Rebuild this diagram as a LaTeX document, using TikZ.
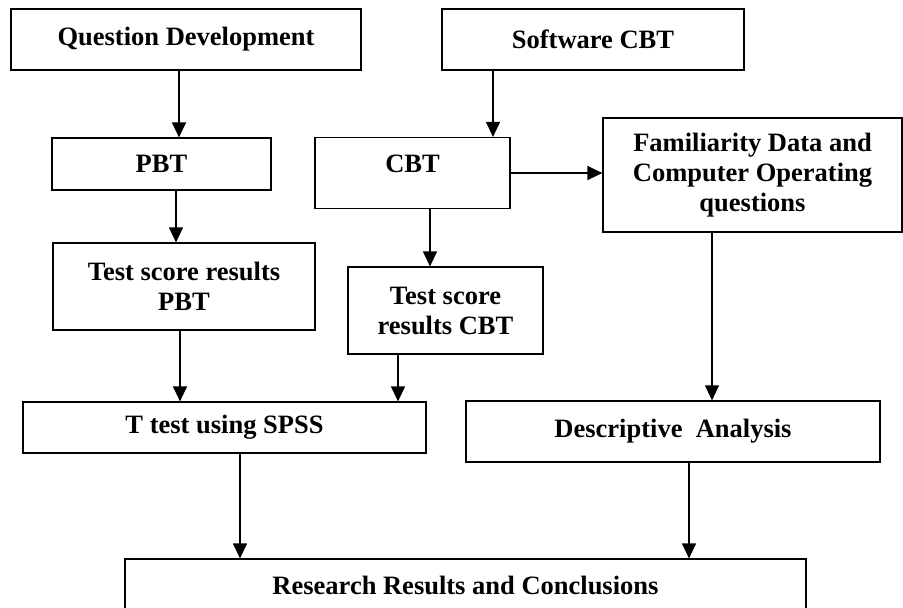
\documentclass[tikz,border=0pt]{standalone}
\usepackage{fontspec}
\setmainfont{Liberation Serif}
\usepackage{tikz}
\usetikzlibrary{arrows.meta}

\begin{document}
\begin{tikzpicture}[x=1pt, y=-1pt,
        box/.style={draw, line width=1.2pt, inner sep=0pt, align=center,
            font=\fontsize{26.5}{30}\selectfont\bfseries},
        >={Triangle[length=15pt, width=14pt]}, line width=1.2pt]

        \clip (0,0) rectangle (903,608);
        \useasboundingbox (0,0) rectangle (903,608);

        \node[box, minimum width=350pt, minimum height=61pt] (qd) at (186,39.5) {Question Development};
        \node[box, minimum width=302pt, minimum height=61pt] (sw) at (593,39.5) {Software CBT};
        \node[box, minimum width=219pt, minimum height=52pt] (pbt) at (161.5,164) {PBT};
        \node[box, minimum width=195pt, text height=35pt, text depth=36pt] (cbt) at (412.5,173) {CBT};
        \node[box, minimum width=299pt, minimum height=114pt] (fam) at (752.5,175)
            {Familiarity Data and\\Computer Operating\\questions};
        \node[box, minimum width=262pt, minimum height=87pt] (pbtres) at (184,286.5)
            {Test score results\\PBT};
        \node[box, minimum width=195pt, minimum height=87pt] (cbtres) at (445.5,310.5)
            {Test score\\results CBT};
        \node[box, minimum width=403pt, minimum height=51pt] (ttest) at (224.5,427.5) {T test using SPSS};
        \node[box, minimum width=414pt, minimum height=61pt] (desc) at (673,431.5) {Descriptive\ \ Analysis};
        \node[box, minimum width=681pt, minimum height=52pt] (res) at (465.5,585) {Research Results and Conclusions};

        \draw[->] ([xshift=-7pt]qd.south) -- ([xshift=-7pt]qd.south |- pbt.north);
        \draw[->] ([xshift=-100pt]sw.south) -- ([xshift=-100pt]sw.south |- cbt.north);
        \draw[->] ([xshift=14.5pt]pbt.south) -- ([xshift=14.5pt]pbt.south |- pbtres.north);
        \draw[->] ([xshift=17.5pt]cbt.south) -- ([xshift=17.5pt]cbt.south |- cbtres.north);
        \draw[->] (cbt.east) -- (cbt.east -| fam.west);
        \draw[->] ([xshift=-40.5pt]fam.south) -- ([xshift=-40.5pt]fam.south |- desc.north);
        \draw[->] ([xshift=-4pt]pbtres.south) -- ([xshift=-4pt]pbtres.south |- ttest.north);
        \draw[->] ([xshift=-47.5pt]cbtres.south) -- ([xshift=-47.5pt]cbtres.south |- ttest.north);
        \draw[->] ([xshift=15.5pt]ttest.south) -- ([xshift=15.5pt]ttest.south |- res.north);
        \draw[->] ([xshift=16pt]desc.south) -- ([xshift=16pt]desc.south |- res.north);
    \end{tikzpicture}
\end{document}
